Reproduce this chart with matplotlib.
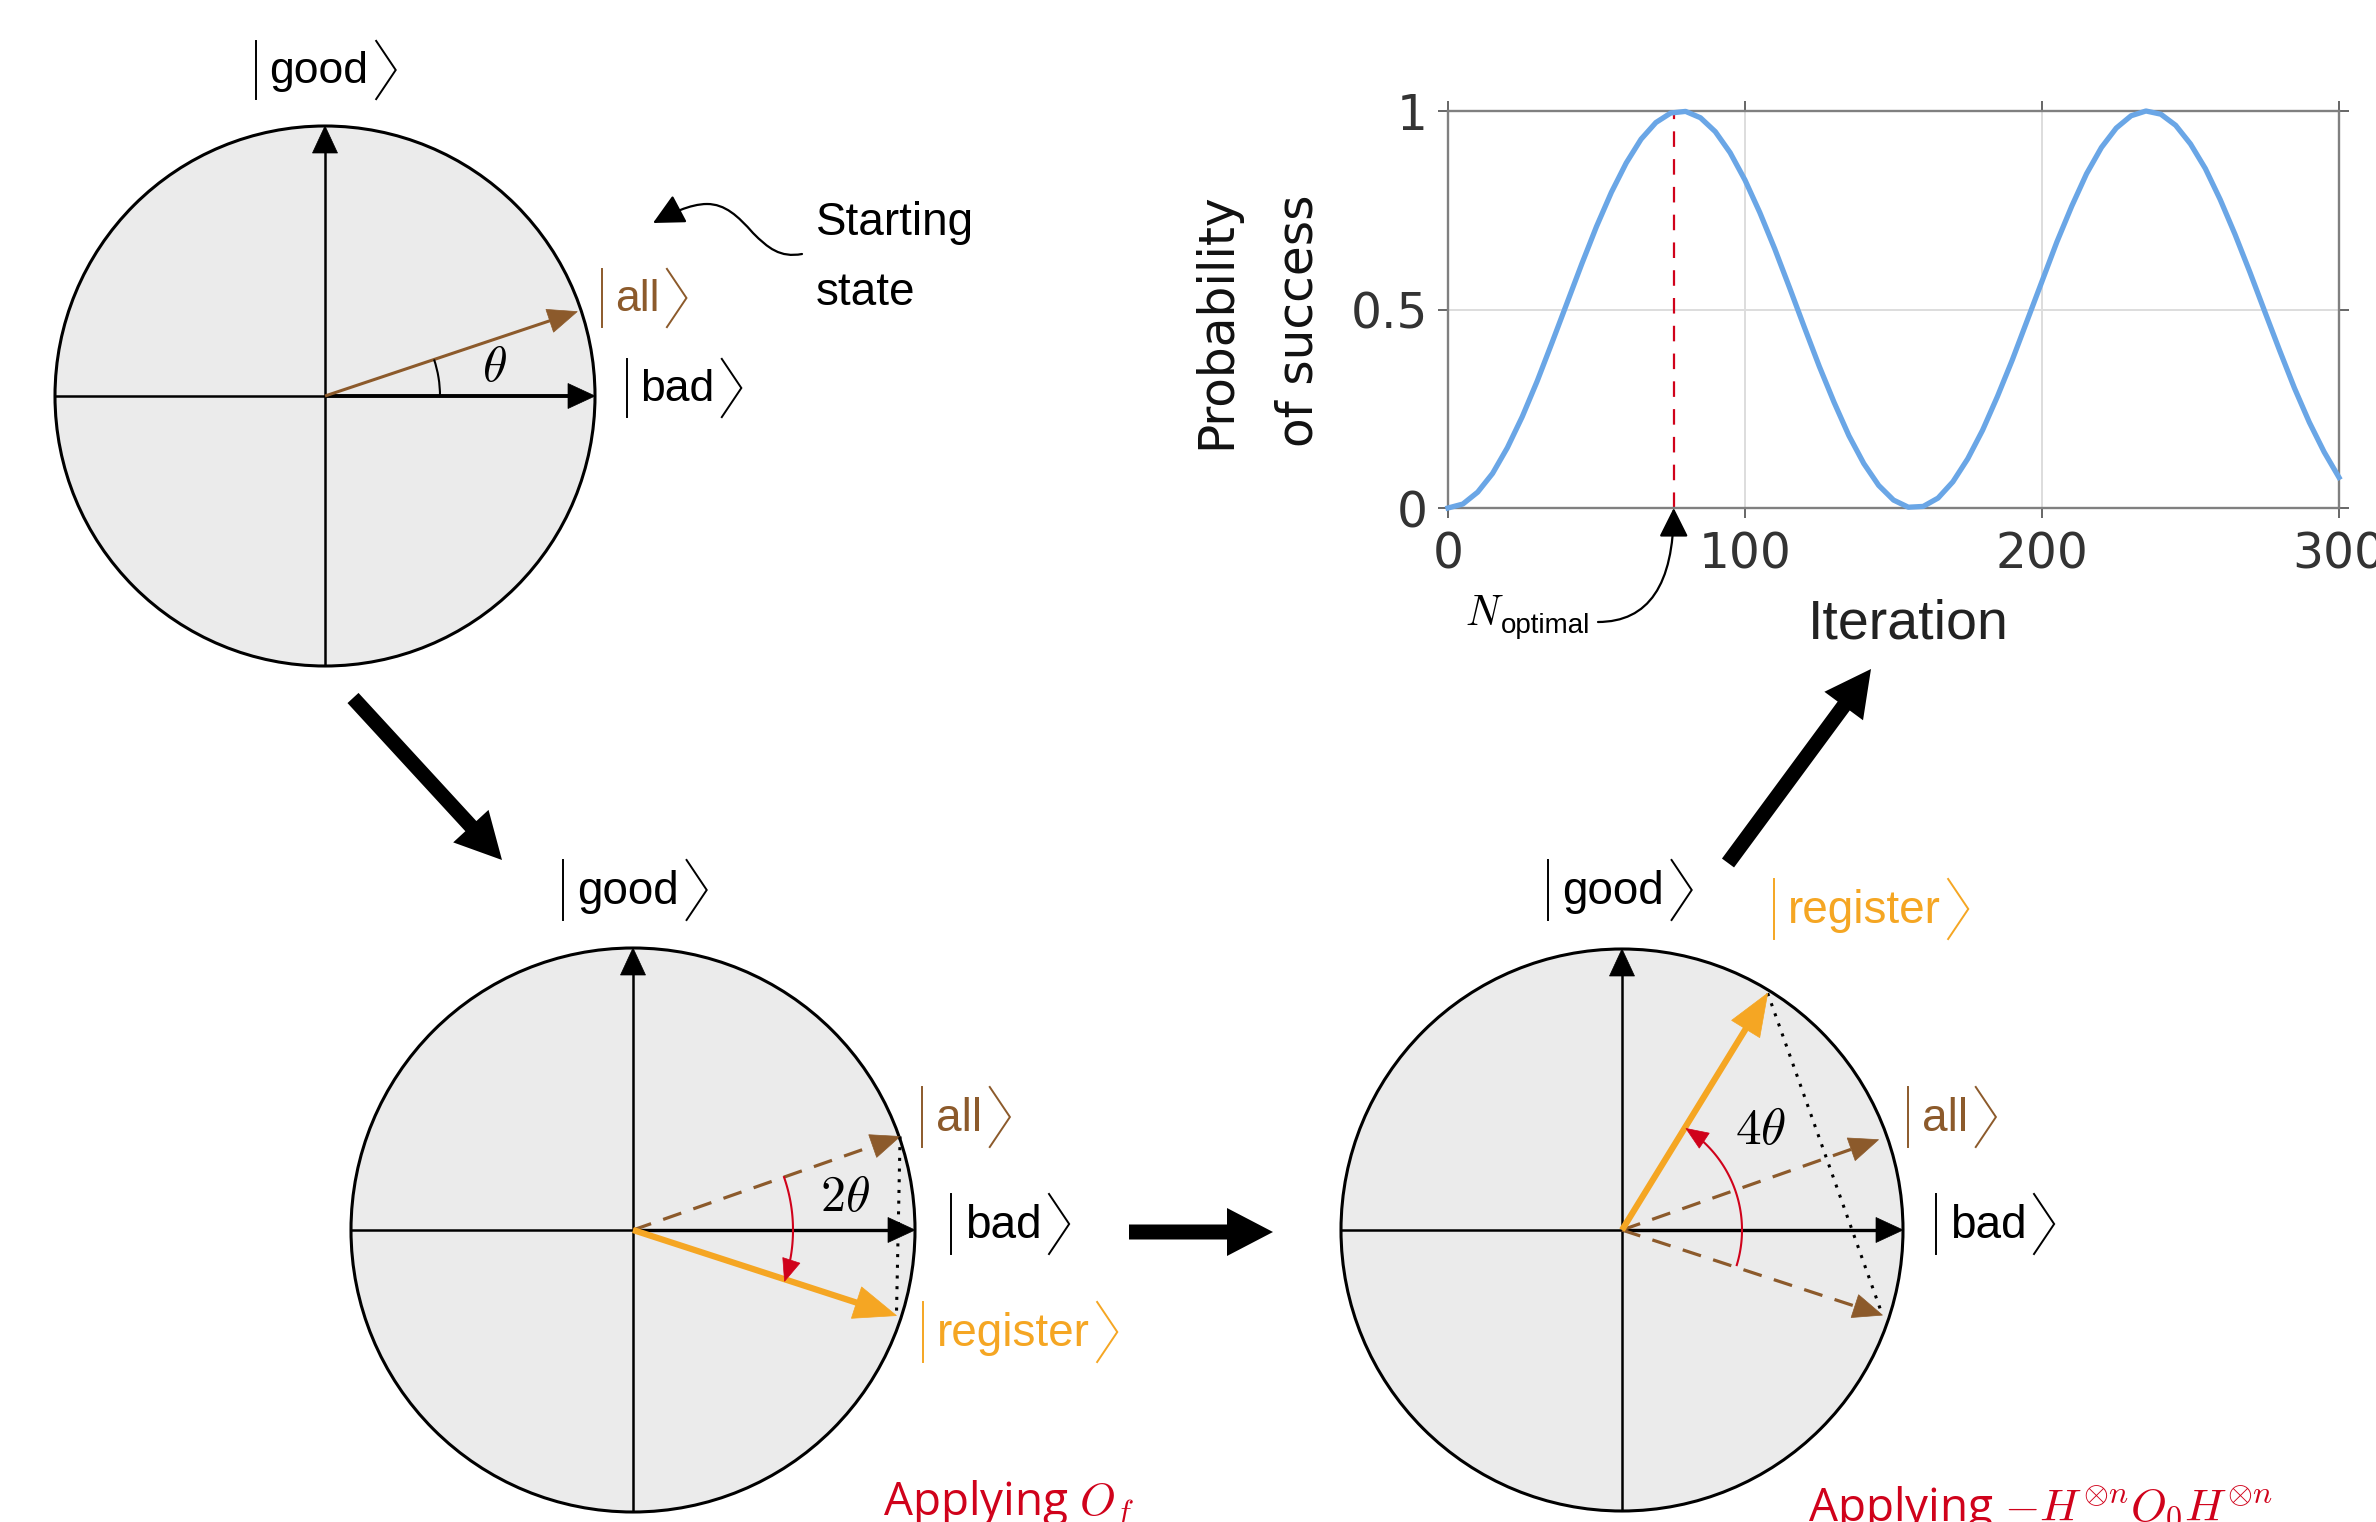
import numpy as np
import matplotlib
matplotlib.use("Agg")
import matplotlib.pyplot as plt
from matplotlib.patches import Circle, Arc, Polygon, FancyArrowPatch
from matplotlib.path import Path

W, H = 2376, 1522

# --- probability curve ---
ITERATIONS = [0, 5, 10, 15, 20, 25, 30, 35, 40, 45,
              50, 55, 60, 65, 70, 75, 80, 85, 90, 95,
              100, 105, 110, 115, 120, 125, 130, 135, 140, 145,
              150, 155, 160, 165, 170, 175, 180, 185, 190, 195,
              200, 205, 210, 215, 220, 225, 230, 235, 240, 245,
              250, 255, 260, 265, 270, 275, 280, 285, 290, 295, 300]
PROB_SUCCESS = [0.000, 0.010, 0.040, 0.087, 0.152, 0.230, 0.319, 0.416, 0.515, 0.614,
                0.709, 0.795, 0.869, 0.929, 0.971, 0.995, 0.999, 0.983, 0.948, 0.895,
                0.826, 0.744, 0.653, 0.555, 0.455, 0.357, 0.266, 0.182, 0.112, 0.057,
                0.020, 0.002, 0.004, 0.025, 0.066, 0.124, 0.196, 0.281, 0.373, 0.472,
                0.571, 0.670, 0.760, 0.842, 0.908, 0.957, 0.988, 1.000, 0.992, 0.964,
                0.917, 0.855, 0.777, 0.689, 0.594, 0.495, 0.397, 0.302, 0.216, 0.141, 0.077]
N_OPTIMAL = 76
X_TICKS = [0, 100, 200, 300]
Y_TICKS = [0, 0.5, 1]
Y_TICK_LABELS = ['0', '0.5', '1']

# --- state vectors in the three circle diagrams: (angle in degrees, length in px) ---
START_ALL = (18.5, 266)
ORACLE_ALL = (19.3, 283)
ORACLE_REG = (-18.0, 277)
DIFF_ALL = (19.4, 272)
DIFF_REFL = (-18.1, 274)
DIFF_REG = (58.4, 278)
THETA_ARC = (0, 18.5)          # small angle mark, first diagram
ORACLE_ARC = (19.3, -18.7)     # red rotation, second diagram
DIFF_ARC = (-17.0, 57.8)       # red rotation, third diagram

BROWN = '#8c5a2b'
ORANGE = '#f5a623'
RED = '#d0021b'
BLUE = '#6aa6e6'
DISK = '#ebebeb'


def polar(c, r, ang):
    a = np.deg2rad(ang)
    return c[0] + r * np.cos(a), c[1] - r * np.sin(a)


def head(ax, tip, ux, uy, color, hl, hw, z):
    px, py = -uy, ux
    bx, by = tip[0] - ux * hl, tip[1] - uy * hl
    tri = [tip, (bx + px * hw / 2, by + py * hw / 2), (bx - px * hw / 2, by - py * hw / 2)]
    ax.add_patch(Polygon(tri, closed=True, fc=color, ec=color, lw=0.5, zorder=z))


def vector(ax, p0, p1, color='black', lw=1.8, ls='-', hl=27, hw=25, z=3):
    L = np.hypot(p1[0] - p0[0], p1[1] - p0[1])
    ux, uy = (p1[0] - p0[0]) / L, (p1[1] - p0[1]) / L
    bx, by = p1[0] - ux * hl * 0.8, p1[1] - uy * hl * 0.8
    ax.plot([p0[0], bx], [p0[1], by], color=color, lw=lw, ls=ls, zorder=z,
            solid_capstyle='butt')
    head(ax, p1, ux, uy, color, hl, hw, z)


def arc_arrow(ax, c, r, a1, a2, color=RED, lw=1.5, hl=22, hw=18, z=4):
    angs = np.linspace(a1, a2, 80)
    xs, ys = polar(c, r, angs)
    ax.plot(xs[:-6], ys[:-6], color=color, lw=lw, zorder=z)
    dx, dy = xs[-1] - xs[-4], ys[-1] - ys[-4]
    L = np.hypot(dx, dy)
    head(ax, (xs[-1], ys[-1]), dx / L, dy / L, color, hl, hw, z)


def ket(ax, x, y, name, color='black', size=32):
    # |name> with tall bar and thin chevron, centred on (x, y)
    em = size * 100 / 72
    t = ax.text(0, y + 0.295 * em, name, family='Liberation Sans', fontsize=size,
                color=color, ha='left', va='baseline', zorder=5)
    w = t.get_window_extent(renderer).width
    total = 0.3 * em + w + 0.17 * em + 0.44 * em
    x0 = x - total / 2
    t.set_x(x0 + 0.3 * em)
    top, bot = y - 0.655 * em, y + 0.655 * em
    ax.plot([x0, x0], [top, bot], color=color, lw=1.4, zorder=5)
    xc = x0 + 0.3 * em + w + 0.17 * em
    ax.plot([xc, xc + 0.44 * em, xc], [top, y, bot], color=color, lw=1.4, zorder=5,
            solid_joinstyle='miter')


def disk(ax, c, r, bad_lw=2.4):
    ax.add_patch(Circle(c, r, facecolor=DISK, edgecolor='black', lw=2.2, zorder=1))
    ax.plot([c[0] - r, c[0]], [c[1], c[1]], color='black', lw=1.8, zorder=2)
    vector(ax, c, (c[0] + r, c[1]), lw=bad_lw, hl=27, hw=25, z=2)
    vector(ax, (c[0], c[1] + r), (c[0], c[1] - r), lw=1.8, hl=27, hw=25, z=2)


fig = plt.figure(figsize=(W / 100, H / 100), dpi=100)
renderer = fig.canvas.get_renderer()
ax = fig.add_axes([0, 0, 1, 1])
ax.set_xlim(0, W)
ax.set_ylim(H, 0)
ax.axis('off')

# ---------------- diagram 1: starting state ----------------
c1, r1 = (325, 396), 270
disk(ax, c1, r1, bad_lw=2.8)
vector(ax, c1, polar(c1, START_ALL[1], START_ALL[0]), color=BROWN, lw=2.2, hl=29, hw=24)
ax.add_patch(Arc(c1, 230, 230, theta1=-THETA_ARC[1], theta2=THETA_ARC[0],
                 color='black', lw=1.5, zorder=3))
ax.text(494, 367, r'$\theta$', math_fontfamily='cm', fontsize=36, ha='center', va='center')
ket(ax, 326, 70, 'good')
ket(ax, 644, 298, 'all', color=BROWN)
ket(ax, 684, 388, 'bad')

start_path = Path([(802, 254), (780, 258), (768, 248), (753, 233),
                   (738, 216), (725, 204), (707, 204),
                   (690, 204), (670, 214), (653, 223)],
                  [Path.MOVETO, Path.CURVE4, Path.CURVE4, Path.CURVE4,
                   Path.CURVE4, Path.CURVE4, Path.CURVE4,
                   Path.CURVE4, Path.CURVE4, Path.CURVE4])
ax.add_patch(FancyArrowPatch(path=start_path, arrowstyle='-|>,head_length=0.4,head_width=0.2',
                             mutation_scale=48, color='black', lw=1.6, zorder=3))
ax.text(816, 235, 'Starting', family='Liberation Sans', fontsize=33, va='baseline')
ax.text(816, 305, 'state', family='Liberation Sans', fontsize=33, va='baseline')

# ---------------- diagram 2: after the oracle ----------------
c2, r2 = (633, 1230), 282
disk(ax, c2, r2)
all2 = polar(c2, ORACLE_ALL[1], ORACLE_ALL[0])
reg2 = polar(c2, ORACLE_REG[1], ORACLE_REG[0])
vector(ax, c2, all2, color=BROWN, lw=2.3, ls=(0, (6, 4)), hl=29, hw=24)
ax.plot([all2[0], reg2[0]], [all2[1], reg2[1]], color='black', lw=2.2, ls=(0, (1, 2.5)), zorder=3)
vector(ax, c2, reg2, color=ORANGE, lw=4.5, hl=42, hw=33)
arc_arrow(ax, c2, 160, ORACLE_ARC[0], ORACLE_ARC[1])
ax.text(845, 1197, r'$2\theta$', math_fontfamily='cm', fontsize=36, ha='center', va='center')
ket(ax, 635, 890, 'good', size=33)
ket(ax, 966, 1117, 'all', color=BROWN, size=33)
ket(ax, 1010, 1224, 'bad', size=33)
ket(ax, 1020, 1332, 'register', color=ORANGE, size=33)
ax.text(883, 1514, r'Applying $O_f$', family='Open Sans', fontsize=33, color=RED,
        math_fontfamily='cm', va='baseline')

# ---------------- diagram 3: after the diffusion ----------------
c3, r3 = (1622, 1230), 281
disk(ax, c3, r3)
all3 = polar(c3, DIFF_ALL[1], DIFF_ALL[0])
refl3 = polar(c3, DIFF_REFL[1], DIFF_REFL[0])
reg3 = polar(c3, DIFF_REG[1], DIFF_REG[0])
vector(ax, c3, all3, color=BROWN, lw=2.3, ls=(0, (6, 4)), hl=29, hw=24)
vector(ax, c3, refl3, color=BROWN, lw=2.3, ls=(0, (6, 4)), hl=29, hw=24)
ax.plot([reg3[0], refl3[0]], [reg3[1], refl3[1]], color='black', lw=2.2, ls=(0, (1, 2.5)), zorder=3)
vector(ax, c3, reg3, color=ORANGE, lw=4.5, hl=42, hw=33)
arc_arrow(ax, c3, 120, DIFF_ARC[0], DIFF_ARC[1])
ax.text(1761, 1130, r'$4\theta$', math_fontfamily='cm', fontsize=37, ha='center', va='center')
ket(ax, 1620, 890, 'good', size=33)
ket(ax, 1871, 909, 'register', color=ORANGE, size=33)
ket(ax, 1952, 1117, 'all', color=BROWN, size=33)
ket(ax, 1995, 1224, 'bad', size=33)
ax.text(1808, 1522, r'Applying $-H^{\otimes n}O_0H^{\otimes n}$', family='Open Sans',
        fontsize=33, color=RED, math_fontfamily='cm', va='baseline')

# ---------------- big flow arrows ----------------
for (x0, y0), (x1, y1) in [((353, 698), (502, 860)),
                           ((1129, 1232), (1273, 1232)),
                           ((1728, 863), (1871, 669))]:
    ax.arrow(x0, y0, x1 - x0, y1 - y0, width=15, head_width=48, head_length=46,
             length_includes_head=True, color='black', lw=0, zorder=3)

# ---------------- probability plot ----------------
axp = fig.add_axes([1448 / W, 1 - 508 / H, 891 / W, 397 / H])
axp.patch.set_alpha(0)
axp.plot(ITERATIONS, PROB_SUCCESS, color=BLUE, lw=3.8, clip_on=False, zorder=3)
axp.axvline(N_OPTIMAL, color=RED, lw=1.6, dashes=(7, 5.5), zorder=2)
axp.set_xlim(0, 300)
axp.set_ylim(0, 1)
axp.set_xticks(X_TICKS)
axp.set_yticks(Y_TICKS, Y_TICK_LABELS)
axp.tick_params(direction='out', length=7.5, width=1.4, color='#666666', top=True, right=True,
                labelsize=35, labelcolor='#333333')
axp.tick_params(axis='x', pad=9)
axp.tick_params(axis='y', pad=7)
for s in axp.spines.values():
    s.set_color('#808080')
    s.set_linewidth(1.7)
axp.grid(True, color='#dddddd', lw=1.4)
axp.set_axisbelow(True)
axp.set_xlabel('Iteration', family='Liberation Sans', fontsize=40, color='#222222')
axp.xaxis.set_label_coords(0.517, -0.227)
axp.set_ylabel('Probability\nof success', fontsize=35, color='#111111', linespacing=1.9,
               va='center')
axp.yaxis.set_label_coords(-0.214, 0.471)

axp.annotate('', xy=(N_OPTIMAL, 0), xycoords='data', xytext=(1598, H - 622),
             textcoords='figure pixels', annotation_clip=False,
             arrowprops=dict(arrowstyle='-|>,head_length=0.4,head_width=0.2', mutation_scale=45,
                             color='black', lw=1.6, shrinkA=0, shrinkB=0,
                             connectionstyle='angle3,angleA=0,angleB=90'))
ax.text(1465, 625, r'$N$', math_fontfamily='cm', fontsize=30, va='baseline')
ax.text(1501, 633, 'optimal', family='Liberation Sans', fontsize=20, va='baseline')

fig.savefig('out.png', dpi=100)
